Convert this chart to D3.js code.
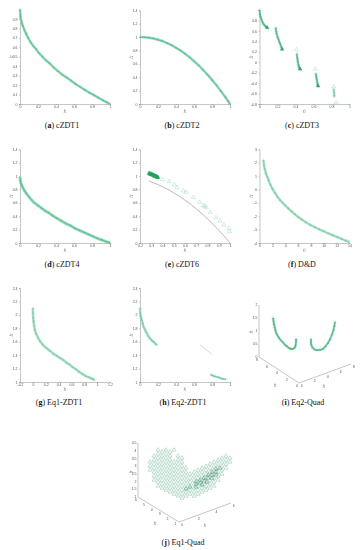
<!DOCTYPE html>
<html>
<head>
<meta charset="utf-8">
<script src="https://cdn.jsdelivr.net/npm/d3@7/dist/d3.min.js"></script>
<style>
    html, body { margin: 0; padding: 0; background: #fff; }
    svg { display: block; }
    .tick-text, .tick text { font: 3.5px 'Liberation Sans', sans-serif; fill: #555; }
    .axis-name { font: italic 4px 'Liberation Serif', serif; fill: #555; }
    .caption { font: 8px 'Liberation Serif', serif; fill: #111; text-anchor: middle; }
    .caption tspan { font-weight: bold; }
    .axis path, .axis line, .axis-3d { stroke: #8a8a8a; stroke-width: 0.5; fill: none; }
</style>
</head>
<body>
<svg id="figure" width="360" height="550"></svg>
<script>
// tick labels
const ticksUnit = [0, 0.2, 0.4, 0.6, 0.8, 1];
const ticksTenths = [0, 0.1, 0.2, 0.3, 0.4, 0.5, 0.6, 0.7, 0.8, 0.9];
const ticksTo14 = [0, 0.2, 0.4, 0.6, 0.8, 1, 1.2, 1.4];
const ticksCzdt3 = [-0.8, -0.6, -0.4, -0.2, 0, 0.2, 0.4, 0.6, 0.8];
const ticksCzdt6X = [0.2, 0.3, 0.4, 0.5, 0.6, 0.7, 0.8, 0.9, 1];
const ticksDdX = [0, 2, 4, 6, 8, 10, 12, 14];
const ticksDdY = [-4, -3, -2, -1, 0, 1, 2, 3];
const ticksEqX = [-0.2, 0, 0.2, 0.4, 0.6, 0.8, 1, 1.2];
const ticksEqY = [1, 1.2, 1.4, 1.6, 1.8, 2, 2.2, 2.4];

// cZDT1
const czdt1F1 = [0, 0.005, 0.01, 0.02, 0.03, 0.05, 0.07, 0.09, 0.12, 0.15, 0.18, 0.21, 0.25, 0.29, 0.33, 0.37, 0.42, 0.47, 0.52, 0.57, 0.62, 0.67, 0.72, 0.77, 0.82, 0.87, 0.92, 0.96, 1];
const czdt1F2 = [1, 0.93, 0.9, 0.86, 0.83, 0.78, 0.74, 0.7, 0.65, 0.61, 0.58, 0.54, 0.5, 0.46, 0.43, 0.39, 0.35, 0.31, 0.28, 0.245, 0.21, 0.18, 0.15, 0.12, 0.095, 0.067, 0.04, 0.02, 0];

// cZDT2
const czdt2F1 = [0, 0.05, 0.1, 0.15, 0.2, 0.25, 0.3, 0.35, 0.4, 0.45, 0.5, 0.55, 0.6, 0.65, 0.7, 0.75, 0.8, 0.85, 0.9, 0.95, 0.98, 1];
const czdt2F2 = [1, 0.998, 0.99, 0.98, 0.96, 0.94, 0.91, 0.88, 0.84, 0.8, 0.75, 0.7, 0.64, 0.58, 0.51, 0.44, 0.36, 0.28, 0.19, 0.1, 0.04, 0];

// cZDT3, one pair of arrays per disconnected piece
const czdt3F1a = [0, 0.005, 0.01, 0.02, 0.03, 0.04, 0.05, 0.06, 0.07, 0.08, 0.09];
const czdt3F2a = [1, 0.92, 0.88, 0.83, 0.78, 0.74, 0.72, 0.7, 0.68, 0.67, 0.66];
const czdt3F1b = [0.18, 0.185, 0.19, 0.2, 0.21, 0.22, 0.23, 0.24, 0.25, 0.255];
const czdt3F2b = [0.66, 0.6, 0.55, 0.49, 0.44, 0.39, 0.35, 0.3, 0.26, 0.24];
const czdt3F1c = [0.415, 0.42, 0.425, 0.43, 0.435, 0.44, 0.445, 0.45, 0.455];
const czdt3F2c = [0.16, 0.08, 0.02, -0.03, -0.07, -0.1, -0.12, -0.13, -0.14];
const czdt3F1d = [0.625, 0.63, 0.635, 0.64, 0.645, 0.65, 0.655];
const czdt3F2d = [-0.22, -0.27, -0.32, -0.37, -0.41, -0.45, -0.47];
const czdt3F1e = [0.825, 0.828, 0.83, 0.83];
const czdt3F2e = [-0.52, -0.57, -0.62, -0.66];
const czdt3OpenF1 = [0.41, 0.62, 0.825, 0.85];
const czdt3OpenF2 = [0.24, -0.13, -0.47, -0.77];
const czdt3EndF1 = [0.085, 0.25, 0.45, 0.65];
const czdt3EndF2 = [0.66, 0.25, -0.13, -0.45];

// cZDT4
const czdt4F1 = [0, 0.004, 0.01, 0.02, 0.03, 0.05, 0.07, 0.1, 0.13, 0.16, 0.2, 0.24, 0.28, 0.32, 0.36, 0.41, 0.46, 0.51, 0.56, 0.61, 0.66, 0.71, 0.76, 0.81, 0.86, 0.91, 0.95, 0.98, 1];
const czdt4F2 = [0.98, 0.93, 0.9, 0.86, 0.83, 0.78, 0.74, 0.69, 0.64, 0.6, 0.56, 0.52, 0.48, 0.45, 0.41, 0.37, 0.33, 0.29, 0.26, 0.22, 0.19, 0.16, 0.13, 0.1, 0.07, 0.045, 0.025, 0.01, 0];

// cZDT6
const czdt6FrontF1 = [0.28, 0.3, 0.35, 0.4, 0.45, 0.5, 0.55, 0.6, 0.65, 0.7, 0.75, 0.8, 0.85, 0.9, 0.95, 1];
const czdt6FrontF2 = [0.925, 0.91, 0.88, 0.84, 0.8, 0.75, 0.7, 0.64, 0.58, 0.51, 0.44, 0.36, 0.28, 0.19, 0.1, 0];
const czdt6DenseF1 = [0.28, 0.285, 0.29, 0.295, 0.3, 0.305, 0.31, 0.315, 0.32, 0.325, 0.33, 0.335, 0.34, 0.345, 0.35, 0.355, 0.36];
const czdt6DenseF2 = [1.04, 1.04, 1.03, 1.03, 1.03, 1.02, 1.02, 1.02, 1.01, 1.01, 1.0, 1.0, 1.0, 0.99, 0.99, 0.98, 0.98];
const czdt6SparseF1 = [0.4, 0.46, 0.505, 0.53, 0.585, 0.61, 0.675, 0.73, 0.76, 0.775, 0.79, 0.825, 0.875, 0.91, 0.945, 0.99, 0.995];
const czdt6SparseF2 = [0.95, 0.92, 0.87, 0.83, 0.78, 0.76, 0.68, 0.61, 0.56, 0.55, 0.53, 0.46, 0.38, 0.33, 0.27, 0.22, 0.17];

// D&D
const ddF1 = [0.6, 0.7, 0.8, 1, 1.2, 1.4, 1.7, 2, 2.4, 2.8, 3.2, 3.6, 4, 4.5, 5, 5.5, 6, 6.6, 7.2, 7.9, 8.6, 9.3, 10, 10.7, 11.4, 12.1, 12.8, 13.4, 14];
const ddF2 = [2.2, 1.85, 1.55, 1.2, 0.95, 0.7, 0.35, 0.05, -0.25, -0.55, -0.8, -1, -1.2, -1.42, -1.65, -1.86, -2.05, -2.25, -2.45, -2.65, -2.82, -2.98, -3.13, -3.28, -3.42, -3.56, -3.7, -3.82, -3.92];

// Eq1-ZDT1
const eq1F1 = [0, 0.002, 0.005, 0.01, 0.02, 0.03, 0.05, 0.08, 0.11, 0.15, 0.19, 0.23, 0.27, 0.32, 0.37, 0.42, 0.47, 0.52, 0.57, 0.62, 0.67, 0.72, 0.77, 0.82, 0.87, 0.92, 0.96];
const eq1F2 = [2.1, 2.03, 1.96, 1.9, 1.84, 1.78, 1.72, 1.66, 1.61, 1.56, 1.52, 1.49, 1.46, 1.42, 1.39, 1.36, 1.33, 1.29, 1.26, 1.22, 1.19, 1.15, 1.12, 1.09, 1.07, 1.05, 1.03];

// Eq2-ZDT1
const eq2F1a = [0, 0.003, 0.007, 0.012, 0.02, 0.03, 0.04, 0.055, 0.07, 0.09, 0.11, 0.13, 0.15, 0.17, 0.19];
const eq2F2a = [2.1, 2.03, 1.98, 1.95, 1.92, 1.87, 1.82, 1.78, 1.74, 1.69, 1.65, 1.62, 1.6, 1.57, 1.55];
const eq2F1b = [0.667, 0.7, 0.73, 0.765, 0.796];
const eq2F2b = [1.555, 1.52, 1.485, 1.45, 1.415];
const eq2F1c = [0.785, 0.8, 0.82, 0.84, 0.87, 0.89, 0.91, 0.93, 0.955];
const eq2F2c = [1.11, 1.1, 1.09, 1.08, 1.07, 1.06, 1.05, 1.045, 1.04];

// Eq2-Quad, two arcs
const quad2F1a = [1.22, 1.26, 1.3, 1.36, 1.42, 1.5, 1.61, 1.74, 1.91, 2.09, 2.26, 2.43, 2.61, 2.78, 2.96, 3.13, 3.19, 3.22, 3.22];
const quad2F2a = [6.78, 6.74, 6.7, 6.64, 6.58, 6.5, 6.39, 6.26, 6.09, 5.91, 5.74, 5.57, 5.39, 5.22, 5.04, 4.87, 4.81, 4.78, 4.78];
const quad2F3a = [1.54, 1.43, 1.31, 1.2, 1.09, 0.97, 0.88, 0.79, 0.7, 0.63, 0.54, 0.49, 0.43, 0.4, 0.41, 0.47, 0.57, 0.69, 0.8];
const quad2F1b = [4.52, 4.52, 4.55, 4.65, 4.83, 5.04, 5.3, 5.57, 5.78, 6, 6.17, 6.35, 6.48, 6.55, 6.61];
const quad2F2b = [3.48, 3.48, 3.45, 3.35, 3.17, 2.96, 2.7, 2.43, 2.22, 2, 1.83, 1.65, 1.52, 1.45, 1.39];
const quad2F3b = [0.84, 0.73, 0.61, 0.52, 0.45, 0.43, 0.45, 0.5, 0.6, 0.74, 0.88, 1.08, 1.26, 1.41, 1.57];

// Eq1-Quad, columns of the surface: each f1/f2 pair has a run of f3 values
const quad1F1 = [0.73, 0.97, 1.21, 1.45, 1.7, 1.94, 2.18, 2.42, 2.66, 2.9, 3.14, 3.39, 3.63, 3.87, 4.11, 4.35, 4.59, 4.83, 5.08, 5.32, 5.56];
const quad1F2 = [5.27, 5.03, 4.79, 4.55, 4.3, 4.06, 3.82, 3.58, 3.34, 3.1, 2.86, 2.61, 2.37, 2.13, 1.89, 1.65, 1.41, 1.17, 0.92, 0.68, 0.44];
const quad1F3 = [
    [3.35, 3.09, 2.83],
    [3.76, 3.5, 3.24, 2.98, 2.72, 2.46, 2.2],
    [4.18, 3.92, 3.66, 3.4, 3.14, 2.88, 2.62, 2.36, 2.1, 1.84],
    [4.07, 3.81, 3.55, 3.29, 3.03, 2.77, 2.51, 2.25, 1.99, 1.73],
    [4.23, 3.97, 3.71, 3.45, 3.19, 2.93, 2.67, 2.41, 2.15, 1.89, 1.63],
    [4.13, 3.87, 3.61, 3.35, 3.09, 2.83, 2.57, 2.31, 2.05, 1.79, 1.53],
    [4.28, 3.5, 3.24, 2.98, 2.72, 2.46, 2.2, 1.94, 1.68, 1.42],
    [3.92, 3.66, 3.4, 3.14, 2.88, 2.62, 2.36, 2.1, 1.84, 1.58, 1.32],
    [3.81, 3.55, 3.29, 3.03, 2.77, 2.51, 2.25, 1.99, 1.73, 1.47, 1.21],
    [3.19, 2.93, 2.67, 2.41, 2.15, 1.89, 1.63, 1.37],
    [2.82, 2.56, 2.3, 2.04, 1.78, 1.52],
    [2.98, 2.72, 2.46, 2.2, 1.94, 1.68, 1.42],
    [3.13, 2.87, 2.61, 2.35, 2.09, 1.83, 1.57],
    [3.29, 3.03, 2.77, 2.51, 2.25, 1.99, 1.73],
    [3.44, 3.18, 2.92, 2.66, 2.4, 2.14, 1.88],
    [3.6, 3.34, 3.08, 2.82, 2.56, 2.3, 2.04],
    [3.76, 3.5, 3.24, 2.98, 2.72, 2.46, 2.2],
    [3.91, 3.65, 3.39, 3.13, 2.87, 2.61],
    [4.07, 3.81, 3.55, 3.29, 3.03],
    [4.22, 3.96, 3.7, 3.44],
    [4.12, 3.86]
];
// darker overlapping fold of the surface
const quad1FoldF1 = [3.51, 3.75, 3.99, 4.23, 4.47, 4.71, 4.95, 3.51, 3.87, 4.17, 4.47, 4.71, 3.51, 3.75, 3.99, 4.23, 4.47, 4.71, 3.14, 2.9];
const quad1FoldF2 = [2.49, 2.25, 2.01, 1.77, 1.53, 1.29, 1.05, 2.49, 2.13, 1.83, 1.53, 1.29, 2.49, 2.25, 2.01, 1.77, 1.53, 1.29, 2.86, 3.1];
const quad1FoldF3 = [2.21, 2.31, 2.46, 2.68, 2.9, 3.12, 3.4, 2.02, 2.19, 2.41, 2.7, 2.93, 2.37, 2.5, 2.65, 2.88, 3.09, 3.32, 1.98, 1.83];

const svg = d3.select('#figure');
const triangle = d3.symbol().type(d3.symbolTriangle);

svg.append('defs')
    .append('filter')
    .attr('id', 'soft')
    .attr('filterUnits', 'userSpaceOnUse')
    .attr('x', 0).attr('y', 0).attr('width', 360).attr('height', 550)
    .append('feGaussianBlur')
    .attr('stdDeviation', 0.35);

const zip = (xs, ys) => xs.map((x, i) => [x, ys[i]]);
const zip3 = (xs, ys, zs) => xs.map((x, i) => [x, ys[i], zs[i]]);

const caption = (letter, name, x, y) => {
    const text = svg.append('text').attr('class', 'caption').attr('x', x).attr('y', y);
    text.append('tspan').text('(').style('font-weight', 'normal');
    text.append('tspan').text(letter);
    text.append('tspan').text(`) ${name}`).style('font-weight', 'normal');
};

const axisName = (g, index, x, y, rotate) => {
    const text = g.append('text')
        .attr('class', 'axis-name')
        .attr('text-anchor', 'middle')
        .attr('transform', `translate(${x},${y})${rotate ? ' rotate(-90)' : ''}`);
    text.append('tspan').text('f');
    text.append('tspan').attr('dy', 1).style('font-size', '3px').text(index);
};

const drawMarks = (g, points, px, py, style) => {
    const path = d3.line().x(px).y(py);

    if (style.line) {
        g.append('path')
            .datum(points)
            .attr('fill', 'none')
            .attr('stroke', style.line)
            .attr('stroke-width', style.lineWidth)
            .attr('stroke-opacity', style.lineOpacity)
            .attr('stroke-linejoin', 'round')
            .attr('d', path);
    }
    if (style.core) {
        g.append('path')
            .datum(points)
            .attr('fill', 'none')
            .attr('stroke', style.core)
            .attr('stroke-width', 0.9)
            .attr('stroke-opacity', 0.7)
            .attr('stroke-linejoin', 'round')
            .attr('d', path);
    }
    if (style.size) {
        g.selectAll(null)
            .data(points)
            .enter()
            .append('path')
            .attr('d', triangle.size(style.size))
            .attr('transform', (d) => `translate(${px(d)},${py(d)})`)
            .attr('fill', style.fill)
            .attr('fill-opacity', style.fillOpacity)
            .attr('stroke', style.stroke)
            .attr('stroke-width', 0.4)
            .attr('stroke-opacity', style.strokeOpacity);
    }
};

const band = { line: '#8ad6b1', lineWidth: 2.6, lineOpacity: 0.85, core: '#45ad7e', size: 3, fill: '#2a9d68', fillOpacity: 0.15, stroke: '#2a9d68', strokeOpacity: 0.12 };
const paleBand = { ...band, line: '#a3e0c3', core: '#72c69d' };
const segment = { line: '#82d2ab', lineWidth: 2.2, lineOpacity: 0.8, core: '#36a673', size: 4, fill: '#2a9d68', fillOpacity: 0.2, stroke: '#2a9d68', strokeOpacity: 0.2 };
const openMark = { size: 7, fill: '#ffffff', fillOpacity: 0, stroke: '#62c99b', strokeOpacity: 0.75 };
const endMark = { size: 6, fill: '#1f9c5e', fillOpacity: 0.8, stroke: '#1f9c5e', strokeOpacity: 0.6 };
const denseMark = { line: '#1fa560', lineWidth: 3, lineOpacity: 1, size: 7, fill: '#1fa560', fillOpacity: 0.8, stroke: '#1fa560', strokeOpacity: 0.8 };

const panel2d = (opts) => {
    const g = svg.append('g').attr('filter', 'url(#soft)');
    const x = d3.scaleLinear().domain(opts.xDomain).range([opts.left, opts.left + 90]);
    const y = d3.scaleLinear().domain(opts.yDomain).range([opts.bottom, opts.top]);

    g.append('g')
        .attr('class', 'axis')
        .attr('transform', `translate(0,${opts.bottom})`)
        .call(d3.axisBottom(x).tickValues(opts.xTicks).tickFormat((d) => d).tickSize(1).tickPadding(1));

    g.append('g')
        .attr('class', 'axis')
        .attr('transform', `translate(${opts.left},0)`)
        .call(d3.axisLeft(y).tickValues(opts.yTicks).tickFormat((d) => d).tickSize(1).tickPadding(1.5));

    axisName(g, '1', opts.left + 45, opts.bottom + 8);
    axisName(g, '2', opts.left - 8, (opts.top + opts.bottom) / 2, true);

    opts.series.forEach((s) => drawMarks(g, s.points, (d) => x(d[0]), (d) => y(d[1]), s.style));
};

const panel3d = (opts) => {
    const g = svg.append('g').attr('filter', 'url(#soft)');
    const [ox, oy] = opts.origin;
    const [cx, cy] = opts.corner;
    const [ex, ey] = opts.end;

    // one scale per axis and per screen direction
    const f1X = d3.scaleLinear().domain(opts.f1Domain).range([0, ex - ox]);
    const f1Y = d3.scaleLinear().domain(opts.f1Domain).range([0, ey - oy]);
    const f2X = d3.scaleLinear().domain(opts.f2Domain).range([0, cx - ox]);
    const f2Y = d3.scaleLinear().domain(opts.f2Domain).range([0, cy - oy]);
    const f3Y = d3.scaleLinear().domain(opts.f3Domain).range([0, -opts.height]);

    const px = (d) => ox + f1X(d[0]) + f2X(d[1]);
    const py = (d) => oy + f1Y(d[0]) + f2Y(d[1]) + f3Y(d[2]);

    const axes = [
        [[ox, oy], [ex, ey]],
        [[ox, oy], [cx, cy]],
        [[cx, cy], [cx, cy - opts.height]]
    ];

    g.selectAll('.axis-3d')
        .data(axes)
        .enter()
        .append('line')
        .attr('class', 'axis-3d')
        .attr('x1', (d) => d[0][0])
        .attr('y1', (d) => d[0][1])
        .attr('x2', (d) => d[1][0])
        .attr('y2', (d) => d[1][1]);

    const ticks = (values, xPos, yPos, dx, dy, anchor) => {
        g.selectAll(null)
            .data(values)
            .enter()
            .append('text')
            .attr('class', 'tick-text')
            .attr('text-anchor', anchor)
            .attr('x', (d) => xPos(d) + dx)
            .attr('y', (d) => yPos(d) + dy)
            .text((d) => d);
    };

    ticks(opts.f1Ticks, (d) => ox + f1X(d), (d) => oy + f1Y(d), 2.7, 4, 'middle');
    ticks(opts.f2Ticks, (d) => ox + f2X(d), (d) => oy + f2Y(d), -2, 4, 'middle');
    ticks(opts.f3Ticks, () => cx, (d) => cy + f3Y(d), -1.5, 1.2, 'end');

    axisName(g, '1', opts.f1Name[0], opts.f1Name[1]);
    axisName(g, '2', opts.f2Name[0], opts.f2Name[1]);
    axisName(g, '3', opts.f3Name[0], opts.f3Name[1], true);

    opts.series.forEach((s) => drawMarks(g, s.points, px, py, s.style));
};

panel2d({
    left: 20, top: 9.5, bottom: 104, xDomain: [0, 1], yDomain: [0, 1],
    xTicks: ticksUnit, yTicks: ticksTenths,
    series: [{ points: zip(czdt1F1, czdt1F2), style: band }]
});
panel2d({
    left: 140, top: 10.3, bottom: 104, xDomain: [0, 1], yDomain: [0, 1.4],
    xTicks: ticksUnit, yTicks: ticksTo14,
    series: [{ points: zip(czdt2F1, czdt2F2), style: band }]
});
panel2d({
    left: 259.5, top: 10, bottom: 104, xDomain: [0, 1], yDomain: [-0.8, 1],
    xTicks: ticksUnit, yTicks: ticksCzdt3,
    series: [
        { points: zip(czdt3F1a, czdt3F2a), style: segment },
        { points: zip(czdt3F1b, czdt3F2b), style: segment },
        { points: zip(czdt3F1c, czdt3F2c), style: segment },
        { points: zip(czdt3F1d, czdt3F2d), style: segment },
        { points: zip(czdt3F1e, czdt3F2e), style: { ...segment, line: '#a9e2c7', core: '#86d1ad' } },
        { points: zip(czdt3OpenF1, czdt3OpenF2), style: openMark },
        { points: zip(czdt3EndF1, czdt3EndF2), style: endMark }
    ]
});

panel2d({
    left: 20, top: 149.3, bottom: 243, xDomain: [0, 1], yDomain: [0, 1.4],
    xTicks: ticksUnit, yTicks: ticksTo14,
    series: [{ points: zip(czdt4F1, czdt4F2), style: { ...band, lineWidth: 3 } }]
});
panel2d({
    left: 140, top: 149.3, bottom: 243, xDomain: [0.2, 1], yDomain: [0, 1.4],
    xTicks: ticksCzdt6X, yTicks: ticksTo14,
    series: [
        { points: zip(czdt6FrontF1, czdt6FrontF2), style: { line: '#8c8c8c', lineWidth: 0.6, lineOpacity: 1 } },
        { points: zip(czdt6SparseF1, czdt6SparseF2), style: openMark },
        { points: zip(czdt6DenseF1, czdt6DenseF2), style: denseMark }
    ]
});
panel2d({
    left: 259.5, top: 149.3, bottom: 243, xDomain: [0, 14], yDomain: [-4, 3],
    xTicks: ticksDdX, yTicks: ticksDdY,
    series: [{ points: zip(ddF1, ddF2), style: paleBand }]
});

panel2d({
    left: 20, top: 288, bottom: 382, xDomain: [-0.2, 1.2], yDomain: [1, 2.4],
    xTicks: ticksEqX, yTicks: ticksEqY,
    series: [{ points: zip(eq1F1, eq1F2), style: paleBand }]
});
panel2d({
    left: 140, top: 288, bottom: 382, xDomain: [0, 1], yDomain: [1, 2.4],
    xTicks: ticksUnit, yTicks: ticksEqY,
    series: [
        { points: zip(eq2F1a, eq2F2a), style: paleBand },
        { points: zip(eq2F1b, eq2F2b), style: { line: '#c4c4c4', lineWidth: 0.7, lineOpacity: 1 } },
        { points: zip(eq2F1c, eq2F2c), style: { ...paleBand, lineWidth: 2 } }
    ]
});

panel3d({
    origin: [299, 383], corner: [259, 357], end: [351, 364], height: 52,
    f1Domain: [0, 8], f2Domain: [0, 8], f3Domain: [0, 2],
    f1Ticks: [0, 2, 4, 6, 8], f2Ticks: [0, 2, 4, 6, 8], f3Ticks: [0, 0.5, 1, 1.5, 2],
    f1Name: [324, 387], f2Name: [275, 386], f3Name: [252, 332],
    series: [
        { points: zip3(quad2F1a, quad2F2a, quad2F3a), style: segment },
        { points: zip3(quad2F1b, quad2F2b, quad2F3b), style: segment }
    ]
});

const quad1Points = quad1F3.flatMap((col, i) => col.map((z) => [quad1F1[i], quad1F2[i], z]));

panel3d({
    origin: [179, 522], corner: [138, 497], end: [231, 503], height: 54,
    f1Domain: [0, 6], f2Domain: [0.8, 6], f3Domain: [1, 4.5],
    f1Ticks: [0, 2, 4, 6], f2Ticks: [1, 2, 3, 4, 5, 6], f3Ticks: [1, 1.5, 2, 2.5, 3, 3.5, 4, 4.5],
    f1Name: [205, 526], f2Name: [155, 524], f3Name: [132, 472],
    series: [
        { points: quad1Points, style: { size: 7, fill: '#ffffff', fillOpacity: 0, stroke: '#2a8f60', strokeOpacity: 0.7 } },
        { points: zip3(quad1FoldF1, quad1FoldF2, quad1FoldF3), style: { size: 7, fill: '#ffffff', fillOpacity: 0, stroke: '#1b7f50', strokeOpacity: 0.9 } }
    ]
});

caption('a', 'cZDT1', 62, 128);
caption('b', 'cZDT2', 182, 128);
caption('c', 'cZDT3', 302, 128);
caption('d', 'cZDT4', 62, 267);
caption('e', 'cZDT6', 182, 267);
caption('f', 'D&D', 302, 267);
caption('g', 'Eq1-ZDT1', 59, 405);
caption('h', 'Eq2-ZDT1', 183, 405);
caption('i', 'Eq2-Quad', 303, 405);
caption('j', 'Eq1-Quad', 183, 545);
</script>
</body>
</html>
